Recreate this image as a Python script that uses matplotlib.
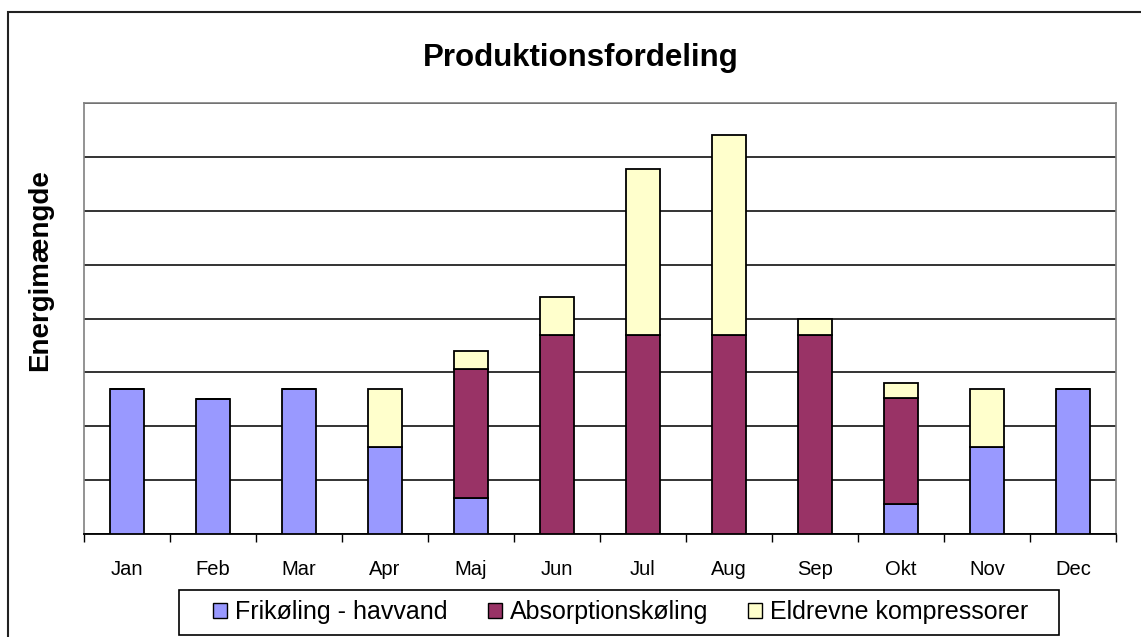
import matplotlib
matplotlib.use("Agg")
import matplotlib.pyplot as plt
from matplotlib.patches import Rectangle, Patch
import numpy as np

plt.rcParams['font.family'] = ['Liberation Sans', 'DejaVu Sans']

months = ["Jan", "Feb", "Mar", "Apr", "Maj", "Jun", "Jul", "Aug", "Sep", "Okt", "Nov", "Dec"]
frikoling = [2.70, 2.50, 2.70, 1.62, 0.67, 0, 0, 0, 0, 0.56, 1.62, 2.70]
absorption = [0, 0, 0, 0, 2.39, 3.69, 3.69, 3.69, 3.69, 1.97, 0, 0]
eldrevne = [0, 0, 0, 1.08, 0.34, 0.70, 3.09, 3.72, 0.31, 0.28, 1.08, 0]
series_names = ["Frikøling - havvand", "Absorptionskøling", "Eldrevne kompressorer"]
colors = ["#9999FF", "#993366", "#FFFFCC"]

W, H = 1141, 637
fig = plt.figure(figsize=(W / 100, H / 100), dpi=100)
ax = fig.add_axes([84 / W, 1 - 534 / H, 1032 / W, 431 / H])

x = np.arange(len(months))
b1 = np.array(frikoling)
b2 = b1 + np.array(absorption)
ax.bar(x, frikoling, width=0.4, color=colors[0], edgecolor="black", linewidth=1.3, zorder=3)
ax.bar(x, absorption, width=0.4, bottom=b1, color=colors[1], edgecolor="black", linewidth=1.3, zorder=3)
ax.bar(x, eldrevne, width=0.4, bottom=b2, color=colors[2], edgecolor="black", linewidth=1.3, zorder=3)

ax.set_xlim(-0.5, len(months) - 0.5)
ax.set_ylim(0, 8)
ax.set_yticks(np.arange(0, 9, 1))
ax.yaxis.grid(True, color="#111111", linewidth=1.2)
ax.tick_params(axis="y", length=0, labelleft=False)
ax.set_xticks(x)
ax.set_xticklabels(months, fontsize=14.5)
ax.set_xticks(np.arange(-0.5, len(months), 1), minor=True)
ax.tick_params(axis="x", which="major", length=0, pad=19)
ax.tick_params(axis="x", which="minor", length=6, width=1, color="black", direction="out")
for s in ["left", "top", "right"]:
    ax.spines[s].set_color("#808080")
    ax.spines[s].set_linewidth(1.2)
ax.spines["bottom"].set_color("black")
ax.spines["bottom"].set_linewidth(1.3)
ax.set_axisbelow(True)

fig.text(581 / W, 1 - 58 / H, "Produktionsfordeling", fontsize=22.5, fontweight="bold",
         ha="center", va="center")
fig.text(40 / W, 1 - 270 / H, "Energimængde", fontsize=20, fontweight="bold",
         rotation=90, ha="center", va="center")

# outer chart border
fig.patches.append(Rectangle((8 / W, -0.2), 1.2, 1.2 - 12 / H, transform=fig.transFigure,
                             fill=False, edgecolor="#222222", linewidth=1.5))

# legend box
fig.patches.append(Rectangle((179 / W, 1 - 635 / H), 880 / W, 45 / H, transform=fig.transFigure,
                             facecolor="white", edgecolor="black", linewidth=1.2, zorder=5))
handles = [Patch(facecolor=c, edgecolor="black", linewidth=1) for c in colors]
leg = fig.legend(handles, series_names, loc="center", bbox_to_anchor=(621 / W, 1 - 612.5 / H),
                 ncol=3, frameon=False, fontsize=18, handlelength=0.56, handleheight=0.56,
                 handletextpad=0.32, columnspacing=1.6, borderpad=0)
leg.set_zorder(6)

fig.savefig("out.png", dpi=100)
